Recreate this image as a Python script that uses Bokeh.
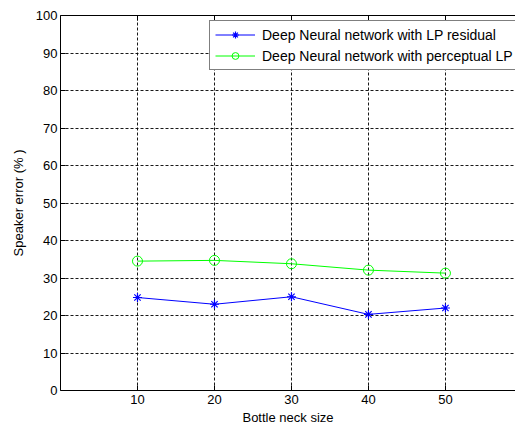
from bokeh.plotting import figure
from bokeh.models import Range1d, FixedTicker, LinearAxis, Legend, LegendItem
from bokeh.embed import file_html
from bokeh.resources import INLINE

# ---- data ----
bottleneck = [10, 20, 30, 40, 50]
lp_residual = [24.8, 23.0, 25.0, 20.3, 22.0]
perceptual_lp = [34.5, 34.7, 33.8, 32.1, 31.3]
series_names = ["Deep Neural network with LP residual",
                "Deep Neural network with perceptual LP"]
x_ticks = [10, 20, 30, 40, 50]
y_ticks = [0, 10, 20, 30, 40, 50, 60, 70, 80, 90, 100]
x_label = "Bottle neck size"
y_label = "Speaker error (% )"

FONT = "Liberation Sans"

p = figure(width=515, height=427, output_backend="svg", toolbar_location=None,
           x_range=Range1d(0, 59.1), y_range=Range1d(0, 100),
           min_border_left=60, min_border_right=0, min_border_top=15,
           min_border_bottom=36)
p.outline_line_color = None
p.background_fill_color = "white"
p.border_fill_color = "white"

# axes
for ax in (p.xaxis[0], p.yaxis[0]):
    ax.axis_line_color = "black"
    ax.axis_line_width = 1
    ax.major_tick_in = 5
    ax.major_tick_out = 0
    ax.minor_tick_line_color = None
    ax.major_tick_line_color = "black"
    ax.major_label_text_font = FONT
    ax.major_label_text_font_size = "13px"
    ax.major_label_text_color = "black"
    ax.axis_label_text_font = FONT
    ax.axis_label_text_font_size = "13px"
    ax.axis_label_text_font_style = "normal"
    ax.axis_label_text_color = "black"

p.xaxis[0].ticker = FixedTicker(ticks=x_ticks)
p.yaxis[0].ticker = FixedTicker(ticks=y_ticks)
p.xaxis[0].axis_label = x_label
p.yaxis[0].axis_label = y_label
p.xaxis[0].major_label_standoff = 4
p.xaxis[0].axis_label_standoff = 3
p.yaxis[0].major_label_standoff = 3
p.yaxis[0].axis_label_standoff = 7

# top border axis (box on), labels not drawn
top = LinearAxis(ticker=FixedTicker(ticks=x_ticks))
top.axis_line_color = "black"
top.major_tick_in = 5
top.major_tick_out = 0
top.minor_tick_line_color = None
top.major_label_text_color = None
top.major_label_text_font_size = "13px"
top.major_label_standoff = 0
p.add_layout(top, "above")

# grid
for g, t in ((p.xgrid[0], x_ticks), (p.ygrid[0], y_ticks)):
    g.ticker = FixedTicker(ticks=t)
    g.grid_line_color = "black"
    g.grid_line_dash = "3 2"
    g.grid_line_width = 1
    g.grid_line_alpha = 0.9

# series
l1 = p.line(bottleneck, lp_residual, line_color="#0000ff", line_width=1)
m1 = p.scatter(bottleneck, lp_residual, marker="asterisk", size=9,
               line_color="#0000ff", line_width=1.2)
l2 = p.line(bottleneck, perceptual_lp, line_color="#00ff00", line_width=1)
m2 = p.scatter(bottleneck, perceptual_lp, marker="circle", size=10,
               line_color="#00ff00", fill_color=None, line_width=1)

legend = Legend(items=[LegendItem(label=series_names[0], renderers=[l1, m1]),
                       LegendItem(label=series_names[1], renderers=[l2, m2])],
                location=(149, 320))
legend.label_text_font = FONT
legend.label_text_font_size = "14px"
legend.label_text_color = "black"
legend.glyph_width = 40
legend.glyph_height = 17
legend.label_height = 17
legend.label_width = 265
legend.label_standoff = 7
legend.spacing = 4
legend.padding = 5
legend.margin = 0
legend.border_line_color = "black"
legend.border_line_width = 1
legend.background_fill_color = "white"
legend.background_fill_alpha = 1
p.add_layout(legend, "center")

open("out.html", "w").write(file_html(p, INLINE))
